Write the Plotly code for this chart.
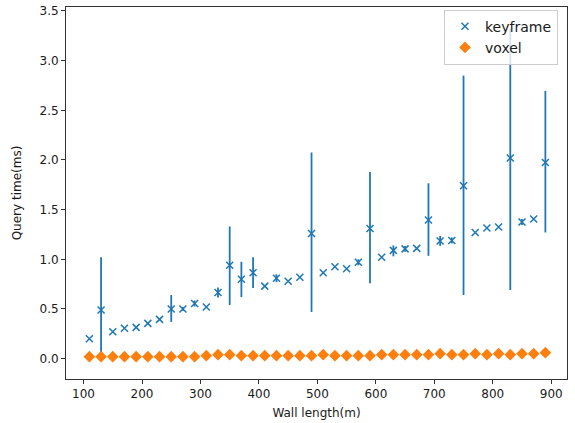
import plotly.graph_objects as go

wall_length = [110, 130, 150, 170, 190, 210, 230, 250, 270, 290,
               310, 330, 350, 370, 390, 410, 430, 450, 470, 490,
               510, 530, 550, 570, 590, 610, 630, 650, 670, 690,
               710, 730, 750, 770, 790, 810, 830, 850, 870, 890]

keyframe_time = [0.20, 0.49, 0.27, 0.305, 0.315, 0.355, 0.395, 0.50, 0.50, 0.555,
                 0.52, 0.665, 0.94, 0.80, 0.865, 0.73, 0.81, 0.78, 0.82, 1.26,
                 0.865, 0.925, 0.905, 0.97, 1.31, 1.02, 1.09, 1.105, 1.11, 1.395,
                 1.185, 1.19, 1.74, 1.27, 1.315, 1.325, 2.02, 1.375, 1.405, 1.975]

keyframe_err_up = [0, 0.53, 0, 0, 0, 0, 0, 0.14, 0.02, 0.03,
                   0, 0.05, 0.39, 0.175, 0.155, 0, 0.04, 0, 0, 0.815,
                   0, 0, 0, 0.03, 0.57, 0, 0.05, 0.03, 0, 0.37,
                   0.05, 0.03, 1.11, 0, 0, 0, 1.30, 0.03, 0, 0.72]

keyframe_err_down = [0, 0.44, 0, 0, 0, 0, 0, 0.13, 0.02, 0.03,
                     0, 0.05, 0.40, 0.18, 0.155, 0, 0.04, 0, 0, 0.79,
                     0, 0, 0, 0.03, 0.55, 0, 0.06, 0.03, 0, 0.36,
                     0.05, 0.03, 1.10, 0, 0, 0, 1.33, 0.03, 0, 0.705]

voxel_time = [0.02, 0.02, 0.02, 0.02, 0.02, 0.02, 0.02, 0.02, 0.02, 0.02,
              0.03, 0.04, 0.04, 0.03, 0.03, 0.03, 0.03, 0.03, 0.03, 0.03,
              0.04, 0.03, 0.03, 0.03, 0.03, 0.04, 0.04, 0.04, 0.04, 0.04,
              0.05, 0.04, 0.04, 0.05, 0.04, 0.05, 0.04, 0.05, 0.05, 0.06]

x_ticks = [100, 200, 300, 400, 500, 600, 700, 800, 900]
y_ticks = [0.0, 0.5, 1.0, 1.5, 2.0, 2.5, 3.0, 3.5]

BLUE = "#1f77b4"
ORANGE = "#ff7f0e"
FONT = "DejaVu Sans"
TXT = "#1a1a1a"

fig = go.Figure()
fig.add_trace(go.Scatter(
    x=wall_length, y=keyframe_time, mode="markers", name="keyframe",
    marker=dict(symbol="x-thin", size=7, color=BLUE, line=dict(color=BLUE, width=1.5)),
    error_y=dict(type="data", symmetric=False, array=keyframe_err_up,
                 arrayminus=keyframe_err_down, color=BLUE, thickness=1.8, width=0),
))
fig.add_trace(go.Scatter(
    x=wall_length, y=voxel_time, mode="markers", name="voxel",
    marker=dict(symbol="diamond", size=9, color=ORANGE, line=dict(width=0)),
))

axis_common = dict(
    showline=True, mirror=True, linecolor="#333333", linewidth=1,
    ticks="outside", ticklen=4, tickwidth=1, tickcolor="#333333",
    showgrid=False, zeroline=False, automargin=False,
    tickfont=dict(family=FONT, size=12, color=TXT),
)

fig.update_layout(
    width=575, height=423,
    margin=dict(l=66, r=8, t=7, b=44),
    paper_bgcolor="white", plot_bgcolor="white",
    font=dict(family=FONT, size=12, color=TXT),
    showlegend=True,
    legend=dict(x=0.982, y=0.993, xanchor="right", yanchor="top",
                bgcolor="rgba(255,255,255,0.8)", bordercolor="#cccccc", borderwidth=1,
                font=dict(family=FONT, size=14, color=TXT),
                tracegroupgap=0),
    xaxis=dict(range=[70, 927], tickvals=x_ticks,
               title=dict(text="Wall length(m)", standoff=8,
                          font=dict(family=FONT, size=12, color=TXT)),
               **axis_common),
    yaxis=dict(range=[-0.205, 3.54], tickvals=y_ticks, tickformat=".1f",
               title=dict(text="Query time(ms)", standoff=15,
                          font=dict(family=FONT, size=12, color=TXT)),
               **axis_common),
)

fig.write_html("out.html", config={"displayModeBar": False},
               post_script="document.body.style.margin='0';document.body.style.padding='0';")
